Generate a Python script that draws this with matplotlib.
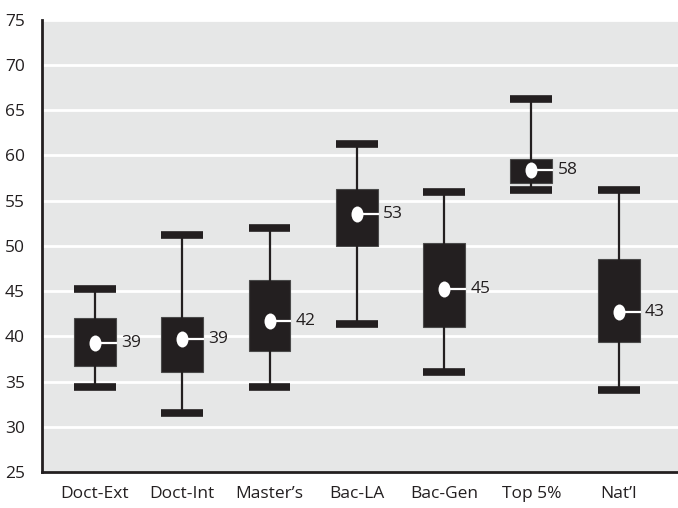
import numpy as np
import matplotlib
matplotlib.use("Agg")
import matplotlib.pyplot as plt
from matplotlib.path import Path

# values
categories = ["Doct-Ext", "Doct-Int", "Master\u2019s", "Bac-LA", "Bac-Gen", "Top 5%", "Nat\u2019l"]
whisker_low = [34.4, 31.5, 34.4, 41.4, 36.0, 56.2, 34.1]
q1 = [36.7, 36.0, 38.4, 50.0, 41.0, 57.0, 39.4]
median = [39.3, 39.7, 41.7, 53.5, 45.2, 58.4, 42.7]
q3 = [42.0, 42.1, 46.2, 56.3, 50.3, 59.6, 48.6]
whisker_high = [45.2, 51.2, 52.0, 61.3, 56.0, 66.2, 56.2]
median_labels = ["39", "39", "42", "53", "45", "58", "43"]
y_ticks = [25, 30, 35, 40, 45, 50, 55, 60, 65, 70, 75]

plt.rcParams['font.family'] = ['Open Sans', 'DejaVu Sans']
DARK = '#231f20'
BG = '#e6e7e7'

fig = plt.figure(figsize=(6.78, 5.08), dpi=100)
ax = fig.add_axes([0.0615, 0.0709, 0.9385, 0.8903])
ax.set_facecolor(BG)

stats = []
for i in range(len(categories)):
    stats.append({
        'whislo': whisker_low[i], 'q1': q1[i], 'med': median[i],
        'q3': q3[i], 'whishi': whisker_high[i], 'fliers': [],
    })

positions = np.arange(len(categories))
box_w = 0.48
ax.bxp(stats, positions=positions, widths=box_w, capwidths=box_w,
       patch_artist=True, showfliers=False, manage_ticks=False,
       boxprops=dict(facecolor=DARK, edgecolor='#4a4a4a', linewidth=0.8),
       whiskerprops=dict(color=DARK, linewidth=1.6),
       capprops=dict(color=DARK, linewidth=5.5, solid_capstyle='butt'),
       medianprops=dict(linewidth=0))

# white oval marker for the median, joined to the box edge
circ = Path.unit_circle()
oval = Path(circ.vertices * np.array([0.75, 1.0]), circ.codes)
for x, m, lab in zip(positions, median, median_labels):
    ax.plot([x, x + box_w / 2], [m, m], color='white', lw=1.6, zorder=4)
    ax.plot(x, m, marker=oval, markersize=11.5, color='white',
            markeredgewidth=0, zorder=5)
    ax.text(x + box_w / 2 + 0.06, m, lab, ha='left', va='center',
            fontsize=12.5, color=DARK, zorder=5)

ax.set_xlim(-0.61, 6.68)
ax.set_ylim(25, 75)
ax.set_yticks(y_ticks)
ax.set_xticks(positions)
ax.set_xticklabels(categories)
ax.tick_params(length=0, labelsize=12.5, colors=DARK)
ax.tick_params(axis='y', pad=12)
ax.tick_params(axis='x', pad=10)

ax.grid(axis='y', color='white', linewidth=2)
ax.set_axisbelow(True)
for s in ['top', 'right']:
    ax.spines[s].set_visible(False)
for s in ['left', 'bottom']:
    ax.spines[s].set_linewidth(2)
    ax.spines[s].set_color(DARK)

fig.savefig('out.png', dpi=100)
